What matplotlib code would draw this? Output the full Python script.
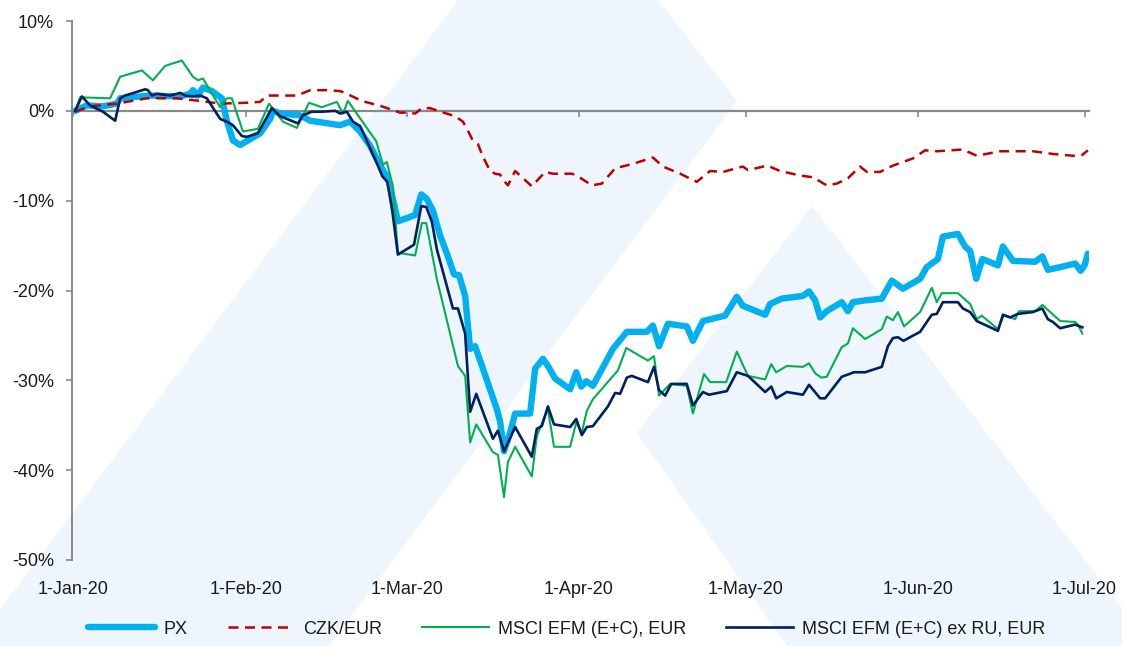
import numpy as np
import pandas as pd
import matplotlib
matplotlib.use('Agg')
import matplotlib.pyplot as plt
from matplotlib.patches import Polygon


# performance since 1-Jan-20 in %, x = days counted from 1-Jan-20
px_day = [0.3, 2.4, 5.3, 7.8, 8.4, 13.8, 19.2, 21.0, 21.5, 22.4, 23.3, 24.9, 26.7, 27.6, 28.7, 30.0,
          33.6, 35.4, 35.9, 37.2, 40.8, 42.6, 48.0, 48.9, 49.8, 51.6, 53.4, 55.2, 56.6, 57.5, 58.4,
          61.5, 62.6, 63.6, 64.7, 66.0, 67.4, 68.5, 69.4, 70.5, 71.4, 72.3, 73.7, 76.2, 76.8, 77.5,
          78.6, 79.5, 82.2, 83.1, 84.5, 85.4, 86.7, 89.4, 90.5, 91.4, 92.3, 93.5, 97.1, 99.6, 103.2,
          104.3, 105.4, 107.0, 110.4, 111.5, 113.3, 117.3, 119.4, 120.5, 124.5, 125.4, 127.5, 131.3,
          132.4, 133.5, 134.4, 135.6, 138.3, 139.4, 140.3, 142.5, 145.5, 147.3, 149.3, 152.4, 153.6,
          155.6, 156.5, 159.2, 160.5, 161.4, 162.5, 163.6, 166.4, 167.3, 169.1, 173.1, 174.4, 175.4,
          177.6, 180.3, 181.3, 182.0, 182.6]
px_val = [0.0, 0.6, 0.5, 0.8, 1.4, 1.7, 1.6, 1.9, 2.3, 1.7, 2.6, 2.2, 1.4, -1.1, -3.3, -3.8,
          -2.5, -0.9, 0.0, -0.3, -0.5, -1.1, -1.6, -1.4, -1.2, -2.3, -3.9, -6.1, -7.5, -9.8, -12.3,
          -11.6, -9.3, -9.8, -11.1, -13.9, -16.2, -18.2, -18.3, -20.6, -26.5, -26.2, -28.7, -33.2, -34.6, -37.9,
          -35.8, -33.7, -33.7, -28.7, -27.6, -28.4, -29.8, -31.0, -29.1, -30.7, -30.1, -30.6, -26.5, -24.6, -24.6,
          -23.9, -26.2, -23.7, -24.0, -25.6, -23.4, -22.8, -20.7, -21.7, -22.7, -21.5, -20.9, -20.6,
          -20.1, -21.1, -23.0, -22.3, -21.3, -22.3, -21.3, -21.1, -20.9, -18.9, -19.8, -18.7, -17.4,
          -16.5, -14.0, -13.7, -15.1, -15.6, -18.7, -16.5, -17.2, -15.1, -16.7, -16.8, -16.2, -17.7,
          -17.4, -17.0, -17.8, -17.2, -15.9]

czk_day = [0.3, 3.0, 7.8, 13.2, 18.6, 22.8, 26.4, 31.2, 33.6, 34.8, 36.6, 40.2, 42.6, 45.6, 48.0,
           49.2, 51.9, 55.5, 58.8, 60.0, 61.5, 62.7, 64.2, 65.6, 68.7, 70.1, 71.0, 71.7, 72.8, 73.7,
           75.0, 75.9, 76.8, 77.5, 78.2, 79.5, 80.4, 82.5, 84.9, 86.3, 89.7, 90.6, 93.3, 95.1, 97.5,
           100.7, 104.3, 106.1, 109.2, 112.2, 114.6, 116.9, 120.5, 121.4, 124.9, 127.2, 130.8, 133.1,
           135.6, 137.4, 139.4, 141.6, 142.8, 145.2, 147.5, 151.1, 153.3, 155.4, 160.1, 162.6, 166.8,
           169.1, 172.7, 176.3, 179.9, 181.6, 182.6]
czk_val = [-0.1, 0.5, 0.8, 1.4, 1.4, 1.1, 0.8, 0.9, 1.0, 1.7, 1.7, 1.7, 2.3, 2.3, 2.2,
           1.9, 1.1, 0.5, -0.2, -0.2, -0.3, 0.3, 0.3, 0.0, -0.6, -1.2, -2.2, -3.1, -3.7, -5.1,
           -6.7, -7.0, -7.1, -7.8, -8.3, -6.7, -7.2, -8.4, -6.8, -7.0, -7.0, -7.2, -8.3, -8.1, -6.4,
           -5.9, -5.2, -6.2, -7.0, -7.9, -6.7, -6.8, -6.2, -6.6, -6.1, -6.7, -7.2, -7.4,
           -8.3, -8.1, -7.5, -6.2, -6.8, -6.8, -6.1, -5.3, -4.4, -4.5, -4.3, -5.0, -4.5,
           -4.5, -4.5, -4.8, -5.0, -4.9, -4.4]

msci_day = [0.3, 1.2, 6.6, 8.4, 12.3, 14.3, 16.5, 19.5, 21.5, 22.4, 23.3, 26.4, 27.6, 28.5, 30.5,
            33.2, 35.2, 37.7, 40.2, 42.4, 44.7, 47.4, 48.5, 49.4, 54.5, 55.7, 56.4, 57.5, 58.4, 61.5,
            62.7, 63.5, 65.4, 69.2, 70.5, 71.4, 72.5, 75.5, 76.4, 77.5, 78.2, 79.5, 82.5, 83.4, 85.4,
            86.5, 89.4, 90.5, 91.5, 92.4, 93.5, 98.0, 99.5, 103.4, 104.5, 105.4, 107.4, 110.4, 111.5,
            113.5, 114.6, 117.5, 119.4, 121.4, 124.5, 125.6, 126.5, 128.4, 131.3, 132.4, 133.5, 134.6,
            135.6, 138.3, 139.4, 140.3, 142.5, 145.5, 146.4, 147.5, 148.4, 149.5, 152.4, 154.5, 155.4,
            156.3, 159.2, 161.4, 162.6, 163.5, 166.4, 167.5, 169.5, 170.2, 173.1, 174.4, 177.6, 180.3,
            180.8, 181.6]
msci_val = [0.0, 1.5, 1.4, 3.8, 4.5, 3.4, 5.0, 5.6, 3.8, 3.4, 3.6, 0.4, 1.4, 1.4, -2.3,
            -2.0, 0.8, -1.2, -1.9, 0.9, 0.4, 1.0, -0.3, 1.1, -3.4, -6.0, -5.7, -8.4, -15.8, -16.1,
            -12.5, -12.5, -18.7, -28.4, -29.5, -36.9, -34.9, -38.0, -38.3, -43.0, -39.1, -37.4, -40.7, -36.2, -33.2,
            -37.4, -37.4, -34.7, -35.8, -33.4, -32.1, -28.9, -26.4, -27.8, -27.3, -31.7, -30.4, -30.6, -33.7,
            -29.3, -30.2, -30.2, -26.8, -29.5, -29.9, -28.2, -29.1, -28.4, -28.5, -28.1, -29.2, -29.7,
            -29.6, -26.3, -25.9, -24.2, -25.4, -24.3, -22.9, -23.3, -22.4, -24.0, -22.4, -19.7, -21.3,
            -20.3, -20.3, -21.5, -23.2, -22.8, -24.3, -22.7, -23.2, -22.3, -22.3, -21.6, -23.4, -23.5,
            -23.8, -24.8]

exru_day = [0.3, 1.5, 3.0, 5.3, 7.5, 8.4, 9.3, 12.9, 13.4, 14.1, 15.0, 17.4, 19.2, 20.1, 21.5,
            22.8, 24.0, 26.4, 27.6, 28.7, 30.3, 31.2, 33.2, 35.7, 37.2, 40.4, 41.3, 42.9, 44.7, 47.1,
            48.0, 49.2, 50.3, 51.6, 53.0, 54.8, 55.6, 56.5, 57.4, 58.4, 61.3, 62.6, 63.5, 64.5, 65.4,
            68.3, 69.2, 70.5, 71.4, 72.5, 75.5, 76.4, 77.5, 79.5, 82.5, 83.4, 84.3, 85.4, 86.5, 89.4,
            90.5, 91.5, 92.4, 93.5, 96.2, 97.5, 98.4, 99.6, 100.5, 103.4, 104.5, 105.4, 106.5, 107.6,
            110.4, 111.5, 113.3, 114.4, 117.6, 119.4, 121.4, 124.5, 125.6, 126.5, 128.4, 131.3, 132.4,
            134.4, 135.3, 138.3, 140.5, 142.5, 145.5, 146.6, 147.5, 148.4, 149.4, 152.4, 154.5, 155.4,
            156.5, 159.2, 160.1, 161.4, 162.6, 166.4, 167.3, 168.6, 170.0, 172.7, 174.4, 175.4, 176.3,
            177.6, 180.3, 181.6]
exru_val = [0.0, 1.6, 0.6, -0.1, -1.1, 1.4, 1.7, 2.4, 2.3, 1.7, 1.9, 1.7, 2.0, 1.7, 1.6,
            1.7, 1.4, -0.9, -1.2, -1.6, -2.8, -2.9, -2.5, 0.3, -0.6, -1.4, -0.5, -0.1, -0.1, 0.0,
            -0.3, -0.1, -1.2, -1.7, -3.6, -6.1, -7.3, -7.9, -11.2, -16.0, -14.9, -10.6, -10.7, -12.3, -15.4,
            -22.0, -22.0, -24.8, -33.5, -31.5, -36.5, -35.6, -37.9, -35.2, -38.5, -35.4, -35.1, -32.9, -34.9, -35.2,
            -34.3, -36.1, -35.2, -35.1, -32.9, -31.4, -31.5, -29.7, -29.5, -30.2, -28.5, -31.1, -31.7, -30.4,
            -30.4, -32.8, -31.3, -31.6, -31.2, -29.1, -29.5, -31.3, -30.7, -32.0, -31.3, -31.6, -30.5,
            -32.0, -32.0, -29.6, -29.1, -29.1, -28.5, -26.2, -25.3, -25.2, -25.6, -24.6, -22.7, -22.6,
            -21.3, -21.3, -22.0, -22.4, -23.4, -24.5, -22.7, -23.0, -22.6, -22.4, -22.0, -23.2, -23.5,
            -24.2, -23.8, -24.1]

series_names = ['PX', 'CZK/EUR', 'MSCI EFM (E+C), EUR', 'MSCI EFM (E+C) ex RU, EUR']
y_ticks = [-50, -40, -30, -20, -10, 0, 10]

start = pd.Timestamp('2020-01-01')
months = pd.date_range('2020-01-01', '2020-07-01', freq='MS')
month_pos = (months - start).days
month_labels = [f'{d.day}-{d.strftime("%b-%y")}' for d in months]

plt.rcParams['font.family'] = ['Liberation Sans', 'DejaVu Sans']
W, H = 1122, 646
fig = plt.figure(figsize=(W / 100, H / 100), dpi=100)

# light chevron watermark behind the chart (pixel coords of the picture)
bg = '#EEF5FD'
for shape in ([(0, 610), (458, 0), (658, 0), (737, 101), (329, 646), (0, 646)],
              [(637, 433), (812, 206), (1151, 646), (787, 646)]):
    pts = [(x / W, 1 - y / H) for x, y in shape]
    fig.patches.append(Polygon(pts, closed=True, transform=fig.transFigure,
                               facecolor=bg, edgecolor='none', zorder=-5))

ax = fig.add_axes([72 / W, 1 - 560 / H, (1089 - 72) / W, (560 - 21) / H])
ax.set_facecolor('none')
ax.set_zorder(1)

ax.plot(px_day, px_val, color='#00B0F0', lw=4.6, solid_joinstyle='round',
        solid_capstyle='round', label=series_names[0], zorder=3)
ax.plot(czk_day, czk_val, color='#C00000', lw=1.8, dashes=(4, 2.6), label=series_names[1], zorder=4)
ax.plot(msci_day, msci_val, color='#00B050', lw=1.5, label=series_names[2], zorder=5)
ax.plot(exru_day, exru_val, color='#002060', lw=1.9, label=series_names[3], zorder=6)

ax.set_xlim(-0.27, 182.8)
ax.set_ylim(-50, 10)

axis_col = '#898989'
txt_col = '#1A1A1A'
for s in ['top', 'right']:
    ax.spines[s].set_visible(False)
ax.spines['left'].set_color(axis_col)
ax.spines['left'].set_linewidth(1.4)
ax.spines['bottom'].set_position(('data', 0))
ax.spines['bottom'].set_color(axis_col)
ax.spines['bottom'].set_linewidth(1.6)
ax.spines['bottom'].set_zorder(2)

ax.set_yticks(y_ticks)
ax.set_yticklabels([f'{v}%' for v in y_ticks])
ax.tick_params(axis='y', length=4, width=1.2, color=axis_col, pad=9,
               labelsize=13, labelcolor=txt_col)

ax.set_xticks(month_pos)
ax.tick_params(axis='x', length=4.5, width=1.2, color=axis_col, direction='out',
               labelbottom=False)

# month labels sit under the plot area, not on the zero line
sec = ax.secondary_xaxis('bottom')
sec.set_xticks(month_pos)
sec.set_xticklabels(month_labels)
sec.tick_params(length=0, pad=15, labelsize=13, labelcolor=txt_col)
sec.spines['bottom'].set_visible(False)

fig.legend(loc='lower center', bbox_to_anchor=(0.505, -0.012), ncol=4, frameon=False,
           fontsize=13, handlelength=3.7, handletextpad=0.5, columnspacing=2.2,
           labelcolor=txt_col)

fig.savefig('out.png', dpi=100)
